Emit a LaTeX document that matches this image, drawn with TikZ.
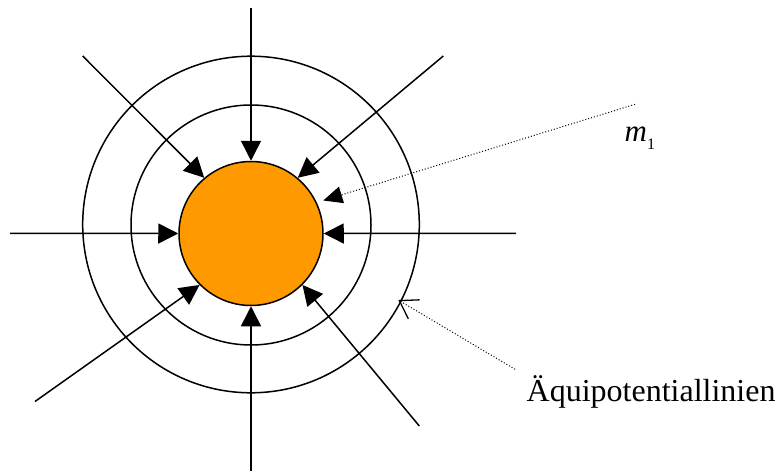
\documentclass[tikz,border=0pt]{standalone}
\usepackage{fontspec}
\setmainfont{Liberation Serif}
\usetikzlibrary{arrows.meta}
\definecolor{massorange}{HTML}{FF9900}
\tikzset{
  fieldline/.style={line width=1.5pt, -{Triangle[length=20pt,width=20pt]}},
  ring/.style={line width=1.5pt},
  leader/.style={line width=1pt, dash pattern=on 1pt off 2pt},
  massbody/.style={circle, draw, line width=1.5pt, fill=massorange, minimum size=144pt, inner sep=0pt},
  lbl/.style={inner sep=0pt, anchor=base west}
}
\begin{document}
\begin{tikzpicture}[x=1pt,y=-1pt]
\useasboundingbox (0,0) rectangle (777,471);
% equipotential rings
\draw[ring] (251,224.5) circle[radius=168.3pt];
\draw[ring] (251,225) circle[radius=120pt];
% mass
\node[massbody] (mass) at (251,233.5) {};
% field line start points
\coordinate (sT) at (251,8);
\coordinate (sB) at (251,471);
\coordinate (sL) at (10,233.4);
\coordinate (sR) at (516,233.4);
\coordinate (sTL) at (82.7,56);
\coordinate (sTR) at (443.3,56);
\coordinate (sBL) at (35,401.5);
\coordinate (sBR) at (419.3,426);
\draw[fieldline] (sT) -- (mass.north);
\draw[fieldline] (sB) -- (mass.south);
\draw[fieldline] (sL) -- (mass.west);
\draw[fieldline] (sR) -- (mass.east);
\draw[fieldline] (sTL) -- (mass.130);
\draw[fieldline] (sTR) -- (mass.50);
\draw[fieldline] (sBL) -- (mass.225);
\draw[fieldline] (sBR) -- (mass.315);
% labels
\node[lbl] (m1) at (624.5,141.7) {\fontsize{31}{31}\selectfont\itshape m\/\raisebox{-7.3pt}{\fontsize{16}{16}\selectfont\upshape 1}};
\node[lbl] (aeq) at (526.5,401.7) {\fontsize{32}{32}\selectfont Äquipotentiallinien};
% leader lines
\coordinate (m1from) at (635,104.3);
\coordinate (m1tip) at (323.3,200.5);
\draw[leader, -{Triangle[length=19pt,width=17pt]}] (m1from) -- (m1tip);
\coordinate (aeqfrom) at (515,369.3);
\coordinate (aeqtip) at (398.3,300);
\draw[leader, -{Straight Barb[length=17pt,width=22pt,line width=1.3pt]}] (aeqfrom) -- (aeqtip);
\end{tikzpicture}
\end{document}
